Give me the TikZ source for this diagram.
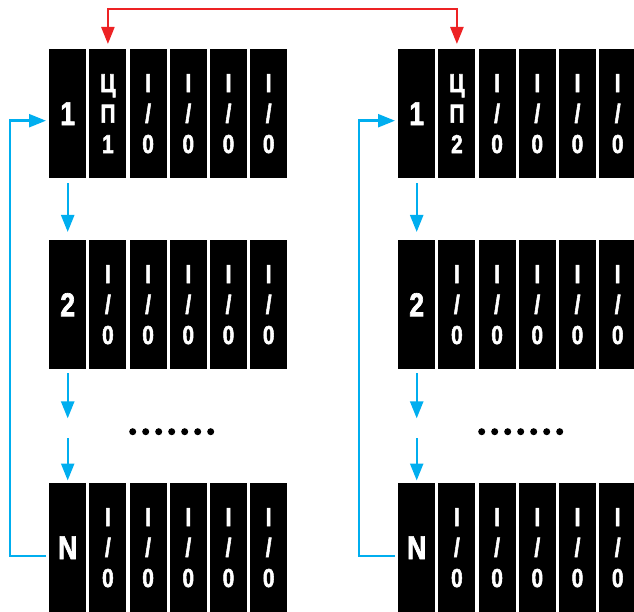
\documentclass[tikz,border=0pt]{standalone}
\usepackage{fontspec}
\setmainfont{Liberation Sans}
\newfontfamily\condfont{Liberation Sans}[FakeStretch=0.8,FakeBold=2]
\usetikzlibrary{arrows.meta,calc}
\definecolor{cy}{HTML}{00AEEF}
\definecolor{rd}{HTML}{ED2224}
\tikzset{
 cell/.style={fill=black, minimum width=37pt, minimum height=129pt, inner sep=0pt, anchor=north west, text=white, font=\condfont\bfseries\fontsize{26}{30.5}\selectfont, align=center},
 numcell/.style={cell, font=\condfont\bfseries\fontsize{33}{33}\selectfont},
 flow/.style={cy, line width=2.4pt, -{Triangle[length=17pt,width=13pt]}},
 link/.style={rd, line width=2.4pt, {Triangle[length=17pt,width=13pt]}-{Triangle[length=17pt,width=13pt]}},
 dotnode/.style={circle, fill=black, inner sep=0pt, minimum size=7pt}
}
\begin{document}
\begin{tikzpicture}[x=1pt,y=-1pt]
\path[use as bounding box] (0,0) rectangle (634,612);
\clip (0,0) rectangle (634,612);
\foreach \g/\gx in {1/0,2/349}{
  \foreach \r/\ry/\lab in {1/49/1,2/240/2,3/483/N}{
    \node[numcell] (g\g r\r c1) at ({49+\gx},\ry) {\lab};
    \foreach \c in {3,...,6}{
      \node[cell] (g\g r\r c\c) at ({49+\gx+40.2*(\c-1)},\ry) {I\\/\\0};
    }
  }
  \node[cell] (g\g r1c2) at ({89.2+\gx},49) {Ц\\П\\\g};
  \node[cell] (g\g r2c2) at ({89.2+\gx},240) {I\\/\\0};
  \node[cell] (g\g r3c2) at ({89.2+\gx},483) {I\\/\\0};
  % flow arrows
  \draw[flow, shorten <=5pt, shorten >=8pt] (g\g r1c1.south) -- (g\g r2c1.north);
  \coordinate (g\g m1) at ([yshift=-49pt]g\g r2c1.south);
  \coordinate (g\g m2) at ([yshift=-69pt]g\g r2c1.south);
  \draw[flow, shorten <=4pt] (g\g r2c1.south) -- (g\g m1);
  \draw[flow, shorten >=2.5pt] (g\g m2) -- (g\g r3c1.north);
  \draw[flow, shorten <=3pt, shorten >=3pt] ([yshift=-8pt]g\g r3c1.west) -- ++(-39,0) |- ([yshift=-7pt]g\g r1c1.west);
  % dots
  \foreach \i in {0,...,6}{
    \node[dotnode] (g\g d\i) at ({132.7+\gx+13*\i},431.7) {};
  }
}
\draw[link, shorten <=5pt, shorten >=5pt] (g1r1c2.north) -- ++(0,-40) -| (g2r1c2.north);
\end{tikzpicture}
\end{document}
